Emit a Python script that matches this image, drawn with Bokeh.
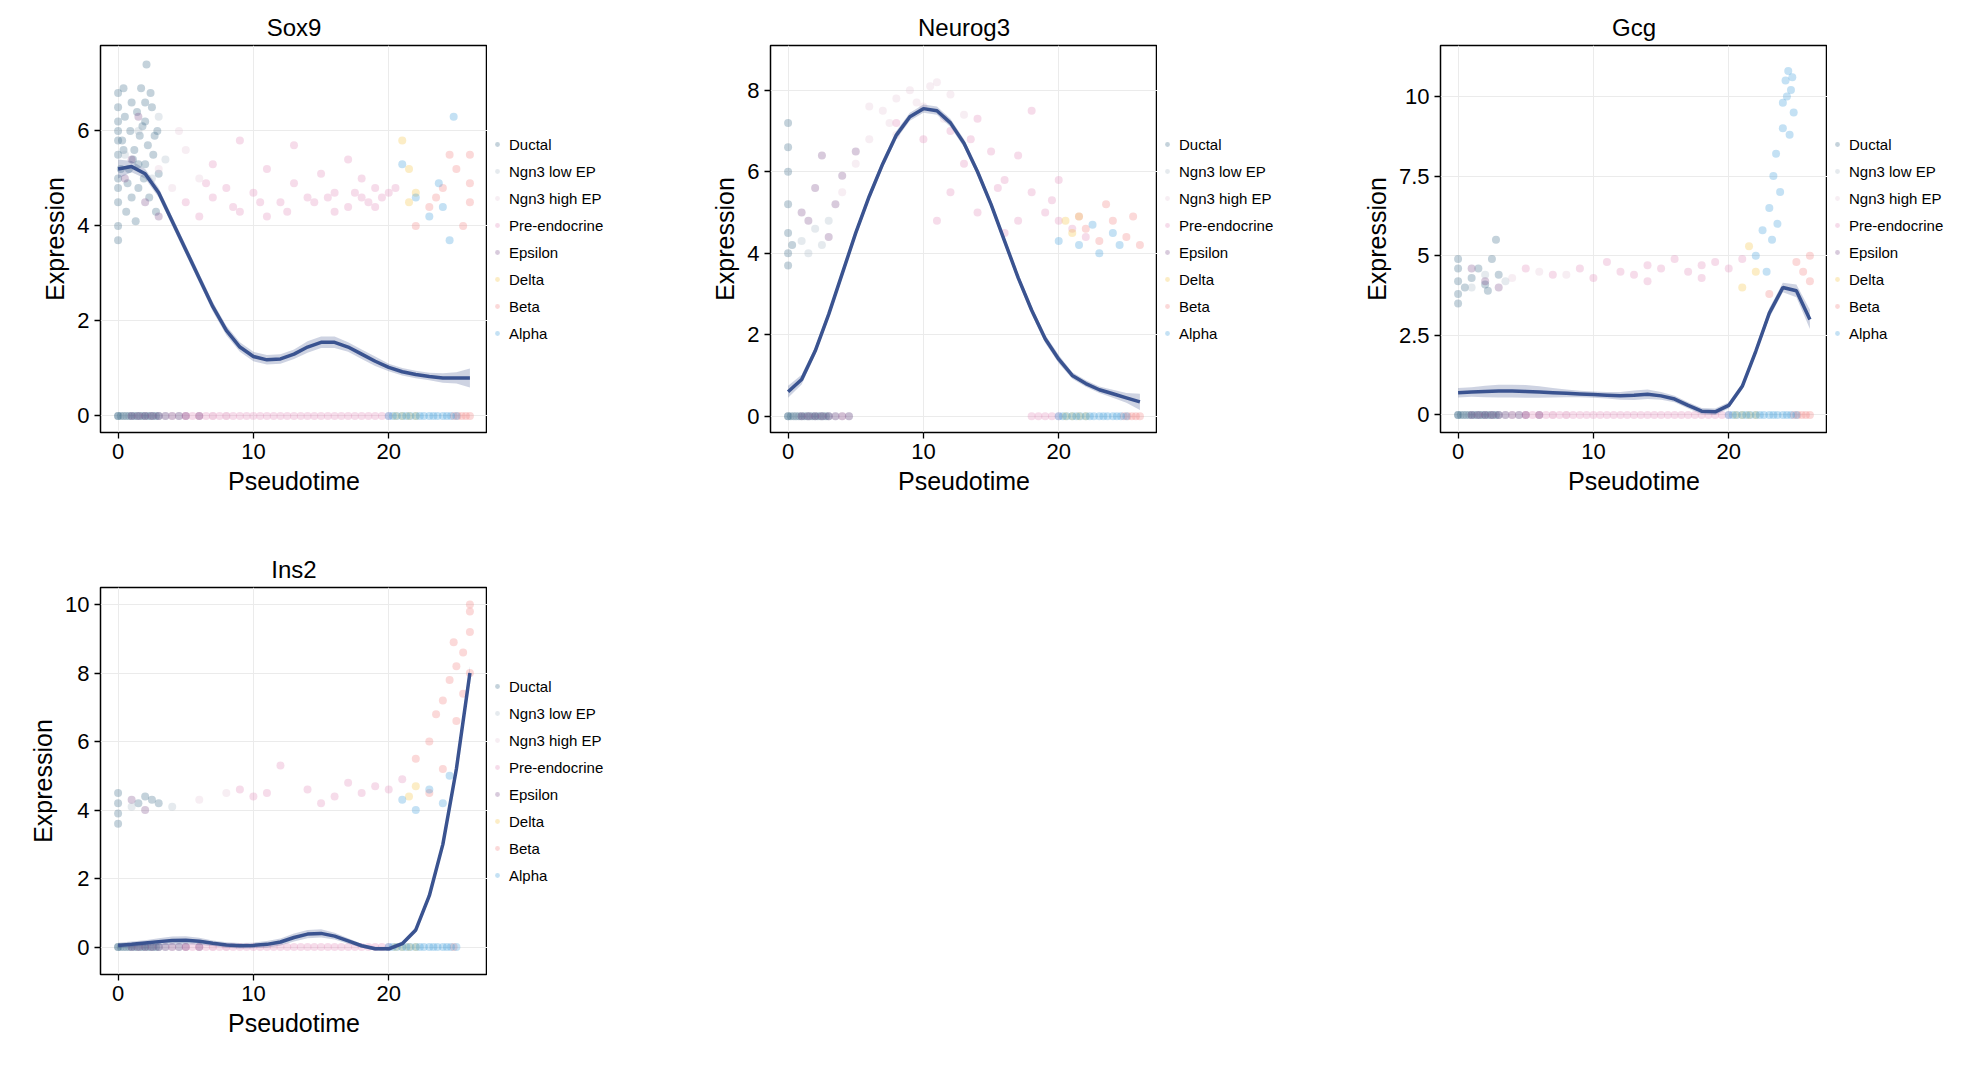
from bokeh.plotting import figure
from bokeh.layouts import gridplot
from bokeh.models import Legend, LegendItem, ColumnDataSource
from bokeh.embed import file_html
from bokeh.resources import INLINE

CATS = ["Ductal", "Ngn3 low EP", "Ngn3 high EP", "Pre-endocrine", "Epsilon", "Delta", "Beta", "Alpha"]
COLORS = ["#3d6b87", "#a9b8c6", "#e3c6d8", "#e08bb8", "#7d4e8c", "#f5c242", "#f28080", "#3a9ad9"]

# pseudotime of cells with zero expression, per cell type
ZERO_T = {
    "Ductal": [0, 0, 0.2, 0.4, 0.6, 0.8, 1, 1.2, 1.4, 1.6, 1.8, 2, 2.2, 2.4, 2.6, 2.8, 3],
    "Ngn3 low EP": [0.5, 1.5, 2.5, 3.5, 4.5],
    "Ngn3 high EP": [4, 5, 6, 7, 8],
    "Epsilon": [1, 1.5, 2, 2.5, 3, 3.5, 4, 4.5, 5, 6],
    "Pre-endocrine": [5, 5.5, 6, 6.5, 7, 7.5, 8, 8.5, 9, 9.5, 10, 10.5, 11, 11.5, 12, 12.5, 13, 13.5,
                      14, 14.5, 15, 15.5, 16, 16.5, 17, 17.5, 18, 18.5, 19, 19.5, 20],
    "Delta": [20.5, 21, 21.5, 22],
    "Alpha": [20, 20.3, 20.6, 21, 21.3, 21.6, 22, 22.3, 22.6, 23, 23.3, 23.6, 24, 24.3, 24.6, 25],
    "Beta": [24.8, 25.1, 25.4, 25.7, 26],
}

SOX9_PTS = {
    "Ductal": ([0, 0, 0, 0, 0, 0, 0, 0, 0.3, 0.5, 0.8, 1, 1.2, 1.5, 1.7, 2, 2, 2.3, 2.5, 2.7, 3, 0.6, 1.3, 2.1, 1.9, 0.2, 0.4, 2.8,
                0, 0, 0, 0.4, 0.9, 1.1, 1.4, 1.6, 1.8, 2.2, 2.4, 2.6, 1.0, 0.7, 1.5, 2.0, 2.9],
               [6.5, 6.0, 5.5, 5.0, 4.5, 4.0, 3.7, 6.8, 5.8, 6.3, 5.2, 6.6, 5.6, 4.8, 6.9, 6.2, 5.3, 4.6, 6.5, 5.9, 5.1, 4.3, 4.1, 7.4, 5.0, 5.2, 6.9, 4.3,
                6.2, 5.8, 4.8, 5.6, 6.0, 5.4, 6.4, 5.9, 6.1, 5.7, 6.8, 5.5, 4.6, 4.9, 5.3, 6.6, 6.0]),
    "Ngn3 low EP": ([0.5, 1.5, 2.5, 3.5, 3], [5.5, 6.0, 5.0, 5.4, 6.3]),
    "Ngn3 high EP": ([3, 4, 5, 6, 4.5], [5.2, 4.8, 5.6, 5.0, 6.0]),
    "Pre-endocrine": ([5, 6, 7, 8, 9, 10, 11, 12, 13, 14, 15, 16, 17, 18, 19, 20, 9, 13, 16, 19, 11, 7, 17, 18,
                       6.5, 8.5, 10.5, 12.5, 14.5, 15.5, 17.5, 18.5, 19.5, 20.5],
                      [4.5, 4.2, 4.6, 4.8, 4.3, 4.7, 5.2, 4.5, 4.9, 4.6, 5.1, 4.7, 5.4, 4.6, 4.8, 4.7, 5.8, 5.7, 4.3, 4.4, 4.2, 5.3, 4.4, 5.0,
                       4.9, 4.4, 4.5, 4.3, 4.5, 4.6, 4.7, 4.5, 4.6, 4.8]),
    "Epsilon": ([1, 2, 1.5, 0.5, 3], [5.4, 4.5, 6.3, 5.0, 4.2]),
    "Delta": ([21, 21.5, 22, 21.5], [5.8, 5.2, 4.7, 4.5]),
    "Beta": ([22, 23, 24, 25, 26, 26, 25.5, 24.5, 23.5, 26], [4.0, 4.4, 4.8, 5.2, 4.5, 4.9, 4.0, 5.5, 4.6, 5.5]),
    "Alpha": ([21, 22, 23, 24, 24.8, 24.5, 23.7], [5.3, 4.6, 4.2, 4.4, 6.3, 3.7, 4.9]),
}
NEUROG3_PTS = {
    "Ductal": ([0, 0, 0, 0, 0, 0, 0, 0.3], [4.0, 4.5, 5.2, 6.0, 6.6, 7.2, 3.7, 4.2]),
    "Ngn3 low EP": ([1, 1.5, 2, 2.5, 3], [4.3, 4.0, 4.6, 4.2, 4.8]),
    "Ngn3 high EP": ([4, 5, 6, 7, 8, 9, 10, 11, 12, 13, 6, 8, 7.5, 9.5, 10.5, 11.5],
                     [5.5, 6.2, 6.8, 7.5, 7.8, 8.0, 7.6, 8.2, 7.9, 7.4, 7.6, 6.9, 7.2, 7.7, 8.1, 7.3]),
    "Pre-endocrine": ([8, 10, 12, 13, 14, 15, 16, 17, 18, 19, 20, 21, 16, 14, 12, 18, 17, 20, 22, 11, 13.5, 15.5, 19.5, 21.5],
                      [7.2, 6.8, 7.0, 6.2, 7.3, 6.5, 5.8, 6.4, 5.5, 5.0, 4.8, 4.6, 4.5, 5.0, 5.5, 7.5, 4.8, 5.8, 4.4, 4.8, 6.8, 5.6, 5.3, 4.9]),
    "Epsilon": ([1, 2, 3, 4, 2.5, 1.5, 3.5, 5], [5.0, 5.6, 4.4, 5.9, 6.4, 4.8, 5.2, 6.5]),
    "Delta": ([20.5, 21, 21.5], [4.8, 4.5, 4.9]),
    "Beta": ([22, 23, 24, 25, 26, 23.5, 25.5], [4.6, 4.3, 4.8, 4.4, 4.2, 5.2, 4.9]),
    "Alpha": ([20, 21.5, 22.5, 23, 24, 24.5], [4.3, 4.2, 4.7, 4.0, 4.5, 4.2]),
}
GCG_PTS = {
    "Ductal": ([0, 0, 0, 0, 0, 0.5, 1, 1.5, 2, 2.5, 2.8, 3, 2.2], [3.5, 3.8, 4.2, 4.6, 4.9, 4.0, 4.3, 4.6, 4.1, 4.9, 5.5, 4.4, 3.9]),
    "Ngn3 low EP": ([1, 2, 3.5], [4.0, 4.4, 4.2]),
    "Ngn3 high EP": ([4, 6, 8], [4.3, 4.5, 4.4]),
    "Pre-endocrine": ([5, 7, 9, 10, 11, 12, 13, 14, 15, 16, 17, 18, 19, 20, 21, 14, 18],
                      [4.6, 4.4, 4.6, 4.3, 4.8, 4.5, 4.4, 4.7, 4.6, 4.9, 4.5, 4.7, 4.8, 4.6, 4.9, 4.2, 4.3]),
    "Epsilon": ([1, 2, 3], [4.6, 4.2, 4.0]),
    "Delta": ([21, 22, 21.5], [4.0, 4.5, 5.3]),
    "Beta": ([25.5, 26, 26, 25, 23], [4.5, 4.2, 5.0, 4.8, 3.8]),
    "Alpha": ([22, 22.5, 23, 23.3, 23.5, 24, 24, 24.2, 24.4, 24.6, 24.8, 24.5, 23.8, 23.6, 24.3, 24.7, 23.2, 22.8],
              [5.0, 5.8, 6.5, 7.5, 8.2, 9.0, 9.8, 10.5, 10.8, 10.2, 9.5, 8.8, 7.0, 6.0, 10.0, 10.6, 5.5, 4.5]),
}
INS2_PTS = {
    "Ductal": ([0, 0, 0, 0, 1.5, 2, 2.5, 3], [3.6, 3.9, 4.2, 4.5, 4.2, 4.4, 4.3, 4.2]),
    "Ngn3 low EP": ([1, 4], [4.1, 4.1]),
    "Ngn3 high EP": ([6, 8], [4.3, 4.5]),
    "Pre-endocrine": ([9, 10, 11, 12, 14, 16, 17, 18, 19, 20, 21, 15], [4.6, 4.4, 4.5, 5.3, 4.6, 4.4, 4.8, 4.5, 4.7, 4.6, 4.9, 4.2]),
    "Epsilon": ([1, 2], [4.3, 4.0]),
    "Delta": ([21.5, 22], [4.4, 4.7]),
    "Beta": ([22, 23, 23.5, 24, 24.5, 25, 25.5, 26, 26, 26, 25, 24, 23, 25.5, 26, 24.8],
             [5.5, 6.0, 6.8, 7.2, 7.8, 8.2, 8.6, 9.2, 9.8, 8.0, 6.6, 5.2, 4.5, 7.4, 10.0, 8.9]),
    "Alpha": ([21, 22, 23, 24, 24.5], [4.3, 4.0, 4.6, 4.2, 5.0]),
}

# smoothed trend (value at pseudotime 0..26) and half width of its band
TREND_T = list(range(27))
SOX9_FIT = [5.2, 5.25, 5.1, 4.7, 4.1, 3.5, 2.9, 2.3, 1.8, 1.45, 1.25, 1.18, 1.2, 1.3, 1.45, 1.55, 1.55, 1.45, 1.3, 1.15, 1.02, 0.93, 0.87, 0.83, 0.8, 0.8, 0.8]
NEUROG3_FIT = [0.6, 0.9, 1.6, 2.5, 3.5, 4.5, 5.4, 6.2, 6.9, 7.35, 7.55, 7.5, 7.2, 6.7, 6.0, 5.2, 4.3, 3.4, 2.6, 1.9, 1.4, 1.0, 0.8, 0.65, 0.55, 0.45, 0.35]
GCG_FIT = [0.7, 0.72, 0.74, 0.75, 0.75, 0.74, 0.72, 0.7, 0.68, 0.66, 0.64, 0.62, 0.6, 0.62, 0.65, 0.6, 0.5, 0.3, 0.12, 0.1, 0.3, 0.9, 2.0, 3.2, 4.0, 3.9, 3.0]
INS2_FIT = [0.05, 0.08, 0.12, 0.16, 0.19, 0.2, 0.17, 0.11, 0.06, 0.04, 0.05, 0.08, 0.15, 0.28, 0.38, 0.4, 0.32, 0.18, 0.04, -0.05, -0.05, 0.1, 0.5, 1.5, 3.0, 5.2, 8.0]
SOX9_BAND = [0.2, 0.12, 0.1, 0.1, 0.1, 0.1, 0.1, 0.1, 0.1, 0.1, 0.1, 0.1, 0.1, 0.1, 0.12, 0.12, 0.12, 0.1, 0.1, 0.1, 0.08, 0.08, 0.08, 0.08, 0.1, 0.12, 0.2]
NEUROG3_BAND = [0.15, 0.12, 0.1, 0.1, 0.1, 0.1, 0.1, 0.1, 0.1, 0.1, 0.1, 0.1, 0.1, 0.1, 0.1, 0.1, 0.1, 0.1, 0.1, 0.1, 0.1, 0.08, 0.08, 0.08, 0.1, 0.12, 0.2]
GCG_BAND = [0.15, 0.15, 0.18, 0.2, 0.2, 0.2, 0.18, 0.15, 0.12, 0.1, 0.1, 0.1, 0.12, 0.15, 0.15, 0.12, 0.1, 0.1, 0.1, 0.1, 0.1, 0.1, 0.12, 0.15, 0.15, 0.2, 0.3]
INS2_BAND = [0.08, 0.08, 0.08, 0.1, 0.12, 0.12, 0.1, 0.08, 0.08, 0.08, 0.08, 0.1, 0.1, 0.12, 0.12, 0.12, 0.1, 0.08, 0.06, 0.06, 0.06, 0.06, 0.08, 0.1, 0.12, 0.15, 0.2]

GENES = [
    ("Sox9", SOX9_PTS, SOX9_FIT, SOX9_BAND, [(0, 27)], (-0.35, 7.8), [0, 2, 4, 6]),
    ("Neurog3", NEUROG3_PTS, NEUROG3_FIT, NEUROG3_BAND, [(0, 4.5), (18, 27)], (-0.4, 9.1), [0, 2, 4, 6, 8]),
    ("Gcg", GCG_PTS, GCG_FIT, GCG_BAND, [(0, 27)], (-0.55, 11.6), [0, 2.5, 5, 7.5, 10]),
    ("Ins2", INS2_PTS, INS2_FIT, INS2_BAND, [(0, 25)], (-0.8, 10.5), [0, 2, 4, 6, 8, 10]),
]

FONT = "Liberation Sans"


def make_panel(name, pts, fit, band, windows, yr, yticks):
    p = figure(width=487, height=542, x_range=(-1.3, 27.3), y_range=yr,
               output_backend="svg", toolbar_location=None,
               min_border_left=100, min_border_right=0, min_border_top=45, min_border_bottom=110,
               title=name)
    p.title.align = "center"
    p.title.text_font = FONT
    p.title.text_font_size = "24px"
    p.title.text_font_style = "normal"
    p.title.text_color = "black"
    p.outline_line_color = "black"
    p.outline_line_width = 1.5
    p.outline_line_alpha = 1
    for ax in (p.xaxis, p.yaxis):
        ax.axis_label_text_font = FONT
        ax.axis_label_text_font_size = "25px"
        ax.axis_label_text_font_style = "normal"
        ax.axis_label_text_color = "black"
        ax.major_label_text_font = FONT
        ax.major_label_text_font_size = "22px"
        ax.major_label_text_color = "black"
        ax.minor_tick_line_color = None
        ax.axis_line_color = None
        ax.major_tick_line_color = "black"
        ax.major_tick_line_width = 1.3
        ax.major_tick_out = 6
        ax.major_tick_in = 0
    p.xaxis.axis_label = "Pseudotime"
    p.yaxis.axis_label = "Expression"
    p.xaxis.ticker = [0, 10, 20]
    p.yaxis.ticker = yticks
    p.grid.grid_line_color = "#ebebeb"

    for cat, col in zip(CATS, COLORS):
        zt = [t for t in ZERO_T[cat] if any(a <= t <= b for a, b in windows)]
        xs = list(pts[cat][0]) + zt
        ys = list(pts[cat][1]) + [0] * len(zt)
        src = ColumnDataSource(dict(x=xs, y=ys))
        p.scatter("x", "y", source=src, size=8, fill_color=col, fill_alpha=0.3, line_color=None)

    lo = [f - b for f, b in zip(fit, band)]
    hi = [f + b for f, b in zip(fit, band)]
    p.varea(x=TREND_T, y1=lo, y2=hi, fill_color="#3a4f8c", fill_alpha=0.25)
    p.line(TREND_T, fit, line_color="#3a5390", line_width=3.5)
    return p


def make_legend():
    q = figure(width=183, height=542, x_range=(0, 1), y_range=(0, 1),
               output_backend="svg", toolbar_location=None,
               min_border_left=0, min_border_right=0, min_border_top=45, min_border_bottom=110,
               x_axis_type=None, y_axis_type=None)
    q.outline_line_color = None
    q.grid.visible = False
    items = []
    for cat, col in zip(CATS, COLORS):
        # a point outside the view, only so that the legend draws a marker
        r = q.scatter(x=[-5], y=[-5], size=8, fill_color=col, fill_alpha=0.3, line_color=None)
        items.append(LegendItem(label=cat, renderers=[r]))
    leg = Legend(items=items, location="center_left", border_line_color=None,
                 label_text_font=FONT, label_text_font_size="15px", label_text_color="black",
                 glyph_width=12, glyph_height=12, spacing=10, padding=2, margin=4,
                 label_standoff=6, background_fill_alpha=0)
    q.add_layout(leg)
    return q


panels = [make_panel(*g) for g in GENES]
grid = gridplot([[panels[0], make_legend(), panels[1], make_legend(), panels[2], make_legend()],
                 [panels[3], make_legend(), None, None, None, None]],
                toolbar_location=None)

open("out.html", "w").write(file_html(grid, INLINE))
